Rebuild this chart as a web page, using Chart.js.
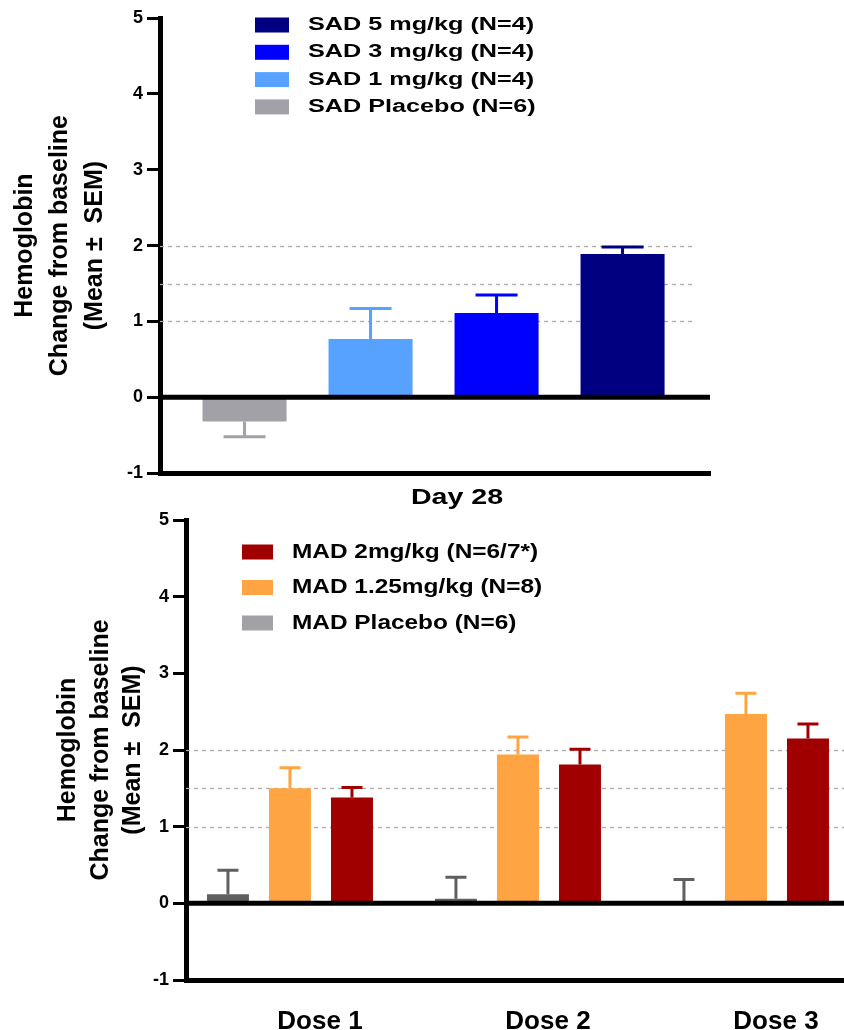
<!DOCTYPE html>
<html>
<head>
<meta charset="utf-8">
<title>Hemoglobin change from baseline</title>
<script src="https://cdn.jsdelivr.net/npm/chart.js@4.4.1/dist/chart.umd.min.js"></script>
<style>
  body { margin: 0; background: #fff; overflow: hidden; }
  canvas { display: block; }
</style>
</head>
<body>
<canvas id="sadChart" width="844" height="488"></canvas>
<canvas id="madChart" width="844" height="542"></canvas>
<script>
// SAD cohorts, in drawing order (left to right)
const sadGroups = ['SAD Placebo (N=6)', 'SAD 1 mg/kg (N=4)', 'SAD 3 mg/kg (N=4)', 'SAD 5 mg/kg (N=4)'];
const sadMean = [-0.32, 0.77, 1.11, 1.89];
const sadSem = [0.20, 0.40, 0.24, 0.09];

// MAD cohorts at each dose
const doseLabels = ['Dose 1', 'Dose 2', 'Dose 3'];
const madGroups = ['MAD Placebo (N=6)', 'MAD 1.25mg/kg (N=8)', 'MAD 2mg/kg (N=6/7*)'];
const madPlaceboMean = [0.12, 0.06, -0.02];
const madPlaceboSem = [0.31, 0.28, 0.33];
const mad125Mean = [1.50, 1.94, 2.47];
const mad125Sem = [0.27, 0.23, 0.27];
const mad2Mean = [1.38, 1.81, 2.15];
const mad2Sem = [0.13, 0.20, 0.19];

const yTicks = [-1, 0, 1, 2, 3, 4, 5];
const refLines = [1, 1.5, 2];
const yTitle = ['Hemoglobin', 'Change from baseline', '(Mean \u00b1  SEM)'];
const heading = 'Day 28';

const sadColors = ['#a1a1a7', '#56a2fe', '#0000fe', '#000080'];
const madColors = ['#5f5f5f', '#fea443', '#a00000'];
const madKeyColors = ['#a1a1a7', '#fea443', '#a00000'];

Chart.defaults.font.family = "'Liberation Sans', Arial, sans-serif";
Chart.defaults.font.weight = 'bold';
Chart.defaults.color = '#000';

const toPoints = (arr) => arr.map((y, i) => ({ x: i + 1, y }));

function wideText(ctx, text, x, y, size, stretch, align) {
  ctx.save();
  ctx.translate(x, y);
  ctx.scale(stretch, 1);
  ctx.font = `bold ${size}px 'Liberation Sans', Arial, sans-serif`;
  ctx.textAlign = align || 'left';
  ctx.textBaseline = 'middle';
  ctx.fillStyle = '#000';
  ctx.fillText(text, 0, 0);
  ctx.restore();
}

// dashed reference lines
const refLinePlugin = {
  id: 'refLines',
  beforeDatasetsDraw(chart, args, opts) {
    const { ctx, chartArea, scales } = chart;
    ctx.save();
    ctx.strokeStyle = '#aaaaaa';
    ctx.lineWidth = 1.3;
    ctx.setLineDash([4, 4]);
    refLines.forEach((v) => {
      const py = Math.round(scales.y.getPixelForValue(v)) + 0.5;
      ctx.beginPath();
      ctx.moveTo(chartArea.left, py);
      ctx.lineTo(chartArea.right - (opts.trim || 0), py);
      ctx.stroke();
    });
    ctx.restore();
  },
};

// one-sided SEM whiskers
const errorBarPlugin = {
  id: 'errorBars',
  afterDatasetsDraw(chart, args, opts) {
    const { ctx, scales } = chart;
    ctx.save();
    ctx.lineWidth = 3;
    chart.data.datasets.forEach((ds, di) => {
      chart.getDatasetMeta(di).data.forEach((bar, i) => {
        const mean = ds.data[i].y;
        const sign = opts.dir === 'up' || mean >= 0 ? 1 : -1;
        const yEnd = scales.y.getPixelForValue(mean + sign * ds.sem[i]);
        const half = bar.width / 4;
        ctx.strokeStyle = Array.isArray(ds.backgroundColor) ? ds.backgroundColor[i] : ds.backgroundColor;
        ctx.beginPath();
        ctx.moveTo(bar.x, bar.y);
        ctx.lineTo(bar.x, yEnd);
        ctx.moveTo(bar.x - half, yEnd);
        ctx.lineTo(bar.x + half, yEnd);
        ctx.stroke();
      });
    });
    ctx.restore();
  },
};

const zeroLinePlugin = {
  id: 'zeroLine',
  afterDatasetsDraw(chart) {
    const { ctx, chartArea, scales } = chart;
    const py = scales.y.getPixelForValue(0);
    ctx.save();
    ctx.strokeStyle = '#000';
    ctx.lineWidth = 5;
    ctx.beginPath();
    ctx.moveTo(chartArea.left, py);
    ctx.lineTo(chartArea.right, py);
    ctx.stroke();
    ctx.restore();
  },
};

// legend drawn inside the plot, plus optional heading
const keyPlugin = {
  id: 'key',
  afterDraw(chart, args, opts) {
    const { ctx } = chart;
    opts.labels.forEach((label, i) => {
      const cy = opts.y + i * opts.rowGap;
      ctx.fillStyle = opts.colors[i];
      ctx.fillRect(opts.x, cy - opts.boxH / 2, opts.boxW, opts.boxH);
      wideText(ctx, label, opts.textX, cy, opts.size, opts.stretch);
    });
    if (opts.heading) {
      wideText(ctx, opts.heading, opts.headingX, opts.headingY, opts.headingSize, opts.headingStretch, 'center');
    }
  },
};

function yAxis(width, titlePad, lineHeight) {
  return {
    type: 'linear',
    min: -1,
    max: 5,
    afterBuildTicks: (scale) => { scale.ticks = yTicks.map((v) => ({ value: v })); },
    afterFit: (scale) => { scale.width = width; },
    ticks: { font: { size: 18 }, padding: 4, color: '#000' },
    grid: { drawOnChartArea: false, drawTicks: true, tickLength: 13, tickWidth: 3, tickColor: '#000' },
    border: { width: 5, color: '#000' },
    title: {
      display: true,
      text: yTitle,
      font: { size: 25, lineHeight },
      padding: { top: titlePad, bottom: 0 },
      color: '#000',
    },
  };
}

new Chart(document.getElementById('sadChart'), {
  type: 'bar',
  data: {
    datasets: [{
      label: 'SAD',
      data: toPoints(sadMean),
      sem: sadSem,
      backgroundColor: sadColors,
      barPercentage: 0.667,
      categoryPercentage: 1,
    }],
  },
  options: {
    responsive: false,
    animation: false,
    layout: { padding: { top: 18, right: 134, bottom: 7, left: 0 } },
    scales: {
      x: {
        type: 'linear',
        offset: false,
        min: 0.329,
        max: 4.694,
        afterBuildTicks: (scale) => { scale.ticks = sadMean.map((v, i) => ({ value: i + 1 })); },
        afterFit: (scale) => { scale.height = 0; },
        ticks: { display: false },
        grid: { display: false, drawTicks: false },
        border: { width: 5, color: '#000' },
      },
      y: yAxis(160, 8, 1.4),
    },
    plugins: {
      legend: { display: false },
      tooltip: { enabled: false },
      refLines: { trim: 18 },
      errorBars: { dir: 'away' },
      key: {
        labels: sadGroups.slice().reverse(),
        colors: sadColors.slice().reverse(),
        x: 255, y: 25, rowGap: 27.3, boxW: 34, boxH: 15,
        textX: 308, size: 18, stretch: 1.4,
      },
    },
  },
  plugins: [refLinePlugin, errorBarPlugin, zeroLinePlugin, keyPlugin],
});

new Chart(document.getElementById('madChart'), {
  type: 'bar',
  data: {
    datasets: [
      { label: madGroups[0], data: toPoints(madPlaceboMean), sem: madPlaceboSem, backgroundColor: madColors[0] },
      { label: madGroups[1], data: toPoints(mad125Mean), sem: mad125Sem, backgroundColor: madColors[1] },
      { label: madGroups[2], data: toPoints(mad2Mean), sem: mad2Sem, backgroundColor: madColors[2] },
    ],
  },
  options: {
    responsive: false,
    animation: false,
    datasets: { bar: { barPercentage: 0.677, categoryPercentage: 0.816 } },
    layout: { padding: { top: 32, right: 0, bottom: 0, left: 0 } },
    scales: {
      x: {
        type: 'linear',
        offset: false,
        min: 0.544,
        max: 3.43,
        afterBuildTicks: (scale) => { scale.ticks = doseLabels.map((d, i) => ({ value: i + 1 })); },
        afterFit: (scale) => { scale.height = 50; },
        ticks: {
          font: { size: 26 },
          padding: 26,
          labelOffset: 30,
          maxRotation: 0,
          color: '#000',
          callback: (v) => doseLabels[v - 1],
        },
        grid: { display: false, drawTicks: false },
        border: { width: 5, color: '#000' },
      },
      y: yAxis(186, 52, 1.3),
    },
    plugins: {
      legend: { display: false },
      tooltip: { enabled: false },
      refLines: { trim: 0 },
      errorBars: { dir: 'up' },
      key: {
        labels: madGroups.slice().reverse(),
        colors: madKeyColors.slice().reverse(),
        x: 242, y: 64, rowGap: 35.5, boxW: 31, boxH: 15,
        textX: 292, size: 20, stretch: 1.22,
        heading, headingX: 457, headingY: 10, headingSize: 22, headingStretch: 1.3,
      },
    },
  },
  plugins: [refLinePlugin, errorBarPlugin, zeroLinePlugin, keyPlugin],
});
</script>
</body>
</html>
